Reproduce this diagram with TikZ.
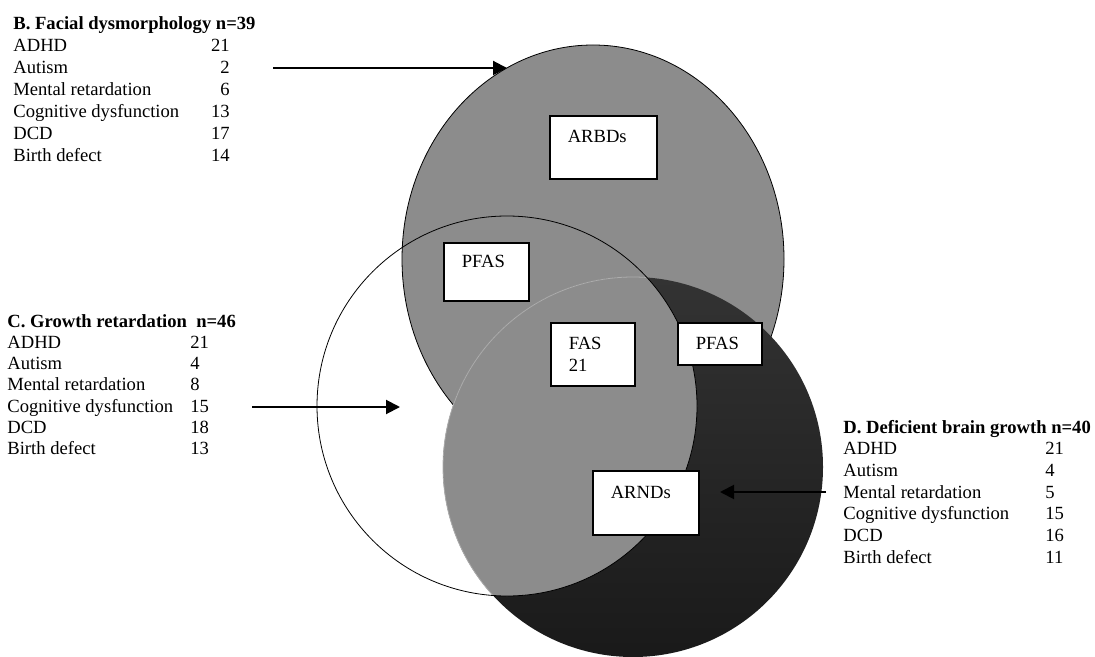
\documentclass[tikz,border=0pt]{standalone}
\usepackage{fontspec}
\setmainfont{Liberation Serif}
\usetikzlibrary{arrows.meta,positioning}
\definecolor{midgray}{gray}{0.55}
\definecolor{darktop}{gray}{0.2}
\definecolor{darkbot}{gray}{0.1}
\definecolor{faintline}{gray}{0.68}
\tikzset{
 tagbox/.style={draw,line width=0.8pt,fill=white,align=left,inner xsep=9pt,
             inner ysep=0pt,anchor=north west,font=\fontsize{9.3}{10.85}\selectfont},
 arrow/.style={-{Triangle[length=7pt,width=7pt]},line width=1pt},
 listtext/.style={anchor=base west,inner sep=0pt,font=\fontsize{9.3}{10.85}\selectfont},
 listhead/.style={listtext,font=\fontsize{9.3}{10.85}\selectfont\bfseries}
}

\begin{document}
\begin{tikzpicture}[x=0.5pt,y=-0.5pt]
\useasboundingbox (0,0) rectangle (1095,657);
% circles: facial (top), growth (left), brain (bottom right)
\fill[white] (507,406) circle[radius=95pt];
\filldraw[fill=midgray,draw=black,line width=0.4pt] (593,259) ellipse[x radius=95.5pt,y radius=107pt];
\shade[top color=darktop,bottom color=darkbot] (633,467) circle[radius=95pt];
\begin{scope}
 \clip (633,467) circle[radius=95pt];
 \fill[midgray] (507,406) circle[radius=95pt];
\end{scope}
\begin{scope}
 \clip (507,406) circle[radius=95pt];
 \draw[faintline,line width=0.4pt] (633,467) circle[radius=95pt];
\end{scope}
\draw[line width=0.4pt] (507,406) circle[radius=95pt];

% boxes
\node[tagbox,text width=35.5pt,minimum height=31.5pt] (arbd) at (549,115) {ARBDs\\~};
\node[tagbox,text width=24.5pt,minimum height=29pt] (pfasleft) at (443,242) {PFAS\\~};
\node[tagbox,text width=24pt,minimum height=31.5pt] (fas) at (550,322) {FAS\\21};
\node[tagbox,text width=24pt,minimum height=21pt] (pfasright) at (677,322) {PFAS};
\node[tagbox,text width=35pt,minimum height=32pt] (arnd) at (592,470) {ARNDs\\~};

% lists
\node[listhead] (facial) at (13,30) {B. Facial dysmorphology n=39};
\foreach \name/\val [count=\i] in {ADHD/21,Autism/2,Mental retardation/6,
  Cognitive dysfunction/13,DCD/17,Birth defect/14}{
  \node[listtext] (facial-\i) at (13,{30+22*\i}) {\name};
  \node[listtext,anchor=base east] (facialnum-\i) at (230,{30+22*\i}) {\val};
}
\node[listhead] (growth) at (7,327) {C. Growth retardation\ \ n=46};
\foreach \name/\val [count=\i] in {ADHD/21,Autism/4,Mental retardation/8,
  Cognitive dysfunction/15,DCD/18,Birth defect/13}{
  \node[listtext] (growth-\i) at (7,{327+21.3*\i}) {\name};
  \node[listtext] (growthnum-\i) at (190,{327+21.3*\i}) {\val};
}
\node[listhead] (brain) at (843,433) {D. Deficient brain growth n=40};
\foreach \name/\val [count=\i] in {ADHD/21,Autism/4,Mental retardation/5,
  Cognitive dysfunction/15,DCD/16,Birth defect/11}{
  \node[listtext] (brain-\i) at (843,{433+21.7*\i}) {\name};
  \node[listtext] (brainnum-\i) at (1045,{433+21.7*\i}) {\val};
}

% arrows
\coordinate (facialfrom) at (273,68);
\coordinate (facialto) at (507,68);
\coordinate (growthfrom) at (252,407);
\coordinate (growthto) at (400,407);
\coordinate (brainfrom) at (826,492);
\coordinate (brainto) at (720,492);
\draw[arrow] (facialfrom) -- (facialto);
\draw[arrow] (growthfrom) -- (growthto);
\draw[arrow] (brainfrom) -- (brainto);
\end{tikzpicture}
\end{document}
